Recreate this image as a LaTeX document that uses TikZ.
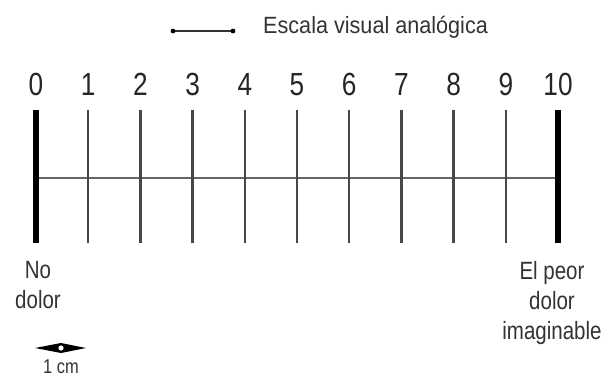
\documentclass[tikz,border=0pt]{standalone}
\usepackage{fontspec}
\setmainfont{Liberation Sans}[FakeStretch=0.82]
\newfontfamily\titlefont{Liberation Sans}[FakeStretch=0.92]
\usetikzlibrary{positioning}

\tikzset{
  numlbl/.style={anchor=base,inner sep=0pt,text=black!85,font=\fontsize{32}{36}\selectfont},
  endlbl/.style={anchor=north,inner sep=0pt,align=center,text=black!80,font=\fontsize{25}{30}\selectfont},
  vastick/.style={line width=2.4pt,black!72},
  vasend/.style={line width=6pt,black},
}

\begin{document}
\begin{tikzpicture}[x=1pt,y=-1pt]
\useasboundingbox[fill=white] (0,0) rectangle (610,378);
% legend
\coordinate (lgL) at (173,31);
\coordinate (lgR) at (233,31);
\draw[line width=1.3pt,black!80] (lgL) -- (lgR);
\fill[black] (lgL) circle (2.4) (lgR) circle (2.4);
\node[anchor=base west,inner sep=0pt,text=black!80,font=\titlefont\fontsize{23.5}{27}\selectfont] (title) at (263,33) {Escala visual analógica};
% scale
\coordinate (mid0) at (36,178);
\coordinate (mid10) at (558,178);
\draw[line width=2.4pt,black!60] (mid0) -- (mid10);
\foreach \i in {0,...,10}{
  \node[numlbl] (n\i) at (36+52.2*\i,95) {\i};
  \coordinate (top\i) at (36+52.2*\i,110);
  \coordinate (bot\i) at (36+52.2*\i,243);
}
\foreach \i in {1,...,9}
  \draw[vastick] (top\i) -- (bot\i);
\draw[vasend] (top0) -- (bot0);
\draw[vasend] (top10) -- (bot10);
% end labels
\node[endlbl] (nodolor) at (38,261) {No\\dolor};
\node[endlbl] (peor) at (552,261) {El peor\\dolor\\imaginable};
% 1 cm
\coordinate (cmL) at (35,348);
\coordinate (cmR) at (86,348);
\coordinate (cmC) at (61,348);
\fill[black] (cmL) -- ([yshift=5pt]cmC) -- (cmR) -- ([yshift=-5pt]cmC) -- cycle;
\fill[white] (cmC) circle (2.6);
\node[anchor=north,inner sep=0pt,text=black!80,font=\fontsize{20}{24}\selectfont] (cm) at (61,360) {1 cm};
\end{tikzpicture}
\end{document}
